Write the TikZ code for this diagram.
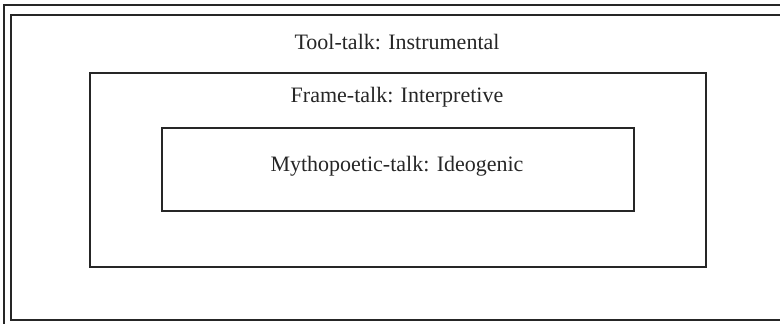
\documentclass[tikz,border=0pt]{standalone}
\usepackage{fontspec}
\setmainfont{Liberation Serif}
\begin{document}
\begin{tikzpicture}[x=1pt,y=-1pt,
  frameline/.style={draw=black!85, line width=1.8pt},
  label/.style={font=\fontsize{22}{26}\selectfont, text=black!85, inner sep=0pt}]
  \useasboundingbox (0,0) rectangle (780,324);
  \begin{scope}
    \clip (0,0) rectangle (780,324);
    % double outer border
    \draw[frameline] (4,5) rectangle (800,340);
    \draw[frameline] (11,15) rectangle (790,320);
  \end{scope}
  % nested boxes
  \node[frameline, minimum width=616pt, minimum height=194pt, anchor=north west] (frame) at (89,72) {};
  \node[frameline, minimum width=472pt, minimum height=83pt, anchor=north west] (myth) at (161,127) {};
  % labels
  \node[label] (tool) at (397,42) {Tool-talk: Instrumental};
  \node[label] (frametxt) at (397,97) {Frame-talk: Interpretive};
  \node[label] (mythtxt) at (397,166) {Mythopoetic-talk: Ideogenic};
\end{tikzpicture}
\end{document}
